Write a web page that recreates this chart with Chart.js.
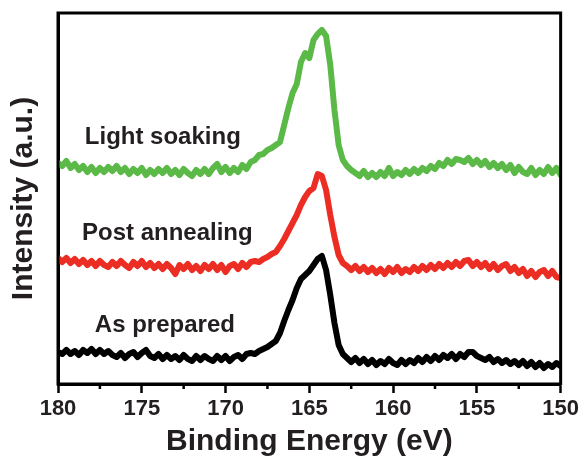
<!DOCTYPE html>
<html><head><meta charset="utf-8">
<script src="https://cdn.jsdelivr.net/npm/chart.js@4"></script>
<style>html,body{margin:0;padding:0;background:#fff;}canvas{display:block;}</style>
</head><body>
<canvas id="c" width="582" height="460"></canvas>
<script>
// Binding energy (eV)
const energies = [180,179.75,179.5,179.25,179,178.75,178.5,178.25,178,177.75,177.5,177.25,177,176.75,176.5,176.25,176,175.75,175.5,175.25,175,174.75,174.5,174.25,174,173.75,173.5,173.25,173,172.75,172.5,172.25,172,171.75,171.5,171.25,171,170.75,170.5,170.25,170,169.75,169.5,169.25,169,168.75,168.5,168.25,168,167.75,167.5,167.25,167,166.75,166.5,166.25,166,165.75,165.5,165.25,165,164.75,164.5,164.25,164,163.75,163.5,163.25,163,162.75,162.5,162.25,162,161.75,161.5,161.25,161,160.75,160.5,160.25,160,159.75,159.5,159.25,159,158.75,158.5,158.25,158,157.75,157.5,157.25,157,156.75,156.5,156.25,156,155.75,155.5,155.25,155,154.75,154.5,154.25,154,153.75,153.5,153.25,153,152.75,152.5,152.25,152,151.75,151.5,151.25,151,150.75,150.5,150.25,150];

// Intensity (a.u.), offset-stacked spectra
const lightSoaking = [
220,217,222,215,219,213,217,211,216,210,
215,211,216,212,217,211,215,209,214,210,
215,208,213,209,214,210,215,209,213,208,
214,210,207,213,209,214,209,215,219,211,
216,210,215,211,218,214,221,223,228,229,
233,235,238,241,258,275,290,299,321,330,
325,343,349,353,347,318,273,238,223,217,
213,210,207,212,206,210,206,211,207,215,
207,211,208,213,209,214,210,215,212,217,
214,220,217,223,219,224,223,221,225,219,
223,218,222,216,220,215,219,213,218,210,
216,211,209,215,208,213,209,216,210,215,
208];
const postAnnealing = [
125,121,125,120,124,119,123,118,122,117,
122,118,116,121,117,122,118,115,121,117,
122,116,120,115,119,114,119,115,109,118,
114,119,113,117,112,118,114,119,113,118,
111,117,119,114,120,116,121,122,121,124,
126,129,131,137,144,152,160,168,178,186,
192,195,209,207,193,168,146,128,120,117,
113,117,112,116,111,115,110,114,109,115,
111,116,110,114,111,116,112,117,113,118,
114,119,115,120,116,121,117,122,123,117,
121,116,120,114,119,113,117,119,112,116,
110,114,107,112,106,111,113,107,112,106,
105];
const asPrepared = [
31,29,33,29,32,28,33,30,34,29,
33,29,32,28,26,30,25,29,31,26,
30,33,27,25,29,24,28,24,27,23,
28,24,22,27,23,27,24,22,27,23,
27,22,26,28,24,29,30,29,32,34,
36,39,42,50,62,73,83,95,104,108,
112,118,124,127,113,88,60,38,29,25,
21,25,20,24,19,23,18,22,19,24,
20,18,23,19,23,20,25,21,26,22,
27,23,28,25,29,24,29,26,31,31,
27,25,23,26,21,24,20,23,19,22,
18,22,17,21,16,20,15,19,16,20,
17];

const seriesNames = ['Light soaking','Post annealing','As prepared'];
const seriesColors = ['#5bb947','#ec2d24','#000000'];
const xTickLabels = [180,175,170,165,160,155,150];
const minorTicks = [177.5,172.5,167.5,162.5,157.5,152.5];
// label anchors in data units (energy, intensity)
const labelAnchors = [[178.4,239],[178.57,143],[177.8,51]];

const series = [lightSoaking, postAnnealing, asPrepared];
const datasets = series.map((vals, k) => ({
  label: seriesNames[k],
  data: energies.map((e, i) => ({x: e, y: vals[i]})),
  borderColor: seriesColors[k],
  borderWidth: 6,
  pointRadius: 0,
  tension: 0,
  borderJoinStyle: 'round',
  borderCapStyle: 'round',
  fill: false
}));

const TXT = '#231f20';
const FONT = '"Liberation Sans", Arial, sans-serif';

const framePlugin = {
  id: 'frame',
  afterDatasetsDraw(chart) {
    const {ctx, chartArea: a, scales} = chart;
    ctx.save();
    ctx.strokeStyle = '#000';
    ctx.lineWidth = 3;
    ctx.strokeRect(a.left, a.top, a.right - a.left, a.bottom - a.top);
    // minor ticks
    ctx.lineWidth = 2.5;
    ctx.beginPath();
    minorTicks.forEach(v => {
      const x = scales.x.getPixelForValue(v);
      ctx.moveTo(x, a.bottom);
      ctx.lineTo(x, a.bottom + 5);
    });
    ctx.stroke();
    // series labels
    ctx.fillStyle = TXT;
    ctx.font = 'bold 24px ' + FONT;
    ctx.textBaseline = 'alphabetic';
    ctx.textAlign = 'left';
    seriesNames.forEach((n, k) => {
      const x = scales.x.getPixelForValue(labelAnchors[k][0]);
      const y = scales.y.getPixelForValue(labelAnchors[k][1]);
      ctx.fillText(n, x, y);
    });
    ctx.restore();
  }
};

new Chart(document.getElementById('c'), {
  type: 'line',
  data: {datasets},
  options: {
    responsive: false,
    animation: false,
    devicePixelRatio: 1,
    layout: {padding: {top: 13, right: 20, left: 0, bottom: 0}},
    plugins: {legend: {display: false}, tooltip: {enabled: false}},
    scales: {
      x: {
        type: 'linear',
        reverse: true,
        min: 150, max: 180,
        afterFit(s) { s.height = 76; },
        afterBuildTicks(s) { s.ticks = xTickLabels.map(v => ({value: v})); },
        grid: {display: true, drawOnChartArea: false, drawTicks: true, tickLength: 9, tickWidth: 2.5, tickColor: '#000'},
        border: {display: true, color: '#000', width: 3},
        ticks: {color: TXT, font: {family: FONT, size: 22, weight: 'bold'}, padding: 3, maxRotation: 0, autoSkip: false},
        title: {display: true, text: 'Binding Energy (eV)', color: TXT, font: {family: FONT, size: 30, weight: 'bold', lineHeight: 1.2}, padding: {top: 0, bottom: 0}}
      },
      y: {
        min: -1, max: 370,
        afterFit(s) { s.width = 58; },
        grid: {display: false},
        border: {display: true, color: '#000', width: 3},
        ticks: {display: false},
        title: {display: true, text: 'Intensity (a.u.)', color: TXT, font: {family: FONT, size: 30, weight: 'bold', lineHeight: 1.2}, padding: {top: 6, bottom: 0}}
      }
    }
  },
  plugins: [framePlugin]
});
</script>
</body></html>
